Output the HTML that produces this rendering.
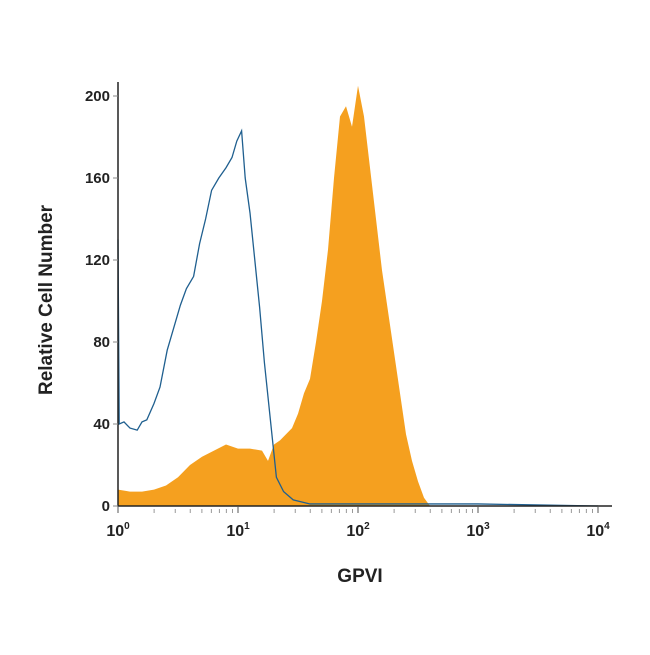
<!DOCTYPE html>
<html><head><meta charset="utf-8"><style>
body{margin:0;background:#fff;}
svg text{font-family:"Liberation Sans Narrow","Liberation Sans",sans-serif;fill:#222;}
</style></head><body>
<svg width="650" height="650">
<g id="plot"></g>
</svg>
<script>
const isoX=[0,0.01,0.05,0.1,0.16,0.2,0.24,0.3,0.35,0.41,0.46,0.52,0.57,0.63,0.68,0.73,0.78,0.84,0.9,0.95,0.99,1.03,1.06,1.1,1.14,1.18,1.22,1.27,1.32,1.38,1.46,1.6,2.0,3.0,4.0];
const isoY=[130,40,41,38,37,41,42,50,58,76,86,98,106,112,128,140,154,160,165,170,178,183,160,143,120,97,70,42,14,7,3,1,1,1,0];
const gpviX=[0,0.1,0.2,0.3,0.4,0.5,0.6,0.7,0.8,0.9,1.0,1.1,1.2,1.25,1.3,1.35,1.4,1.45,1.5,1.55,1.6,1.65,1.7,1.75,1.8,1.85,1.9,1.95,2.0,2.05,2.1,2.15,2.2,2.25,2.3,2.35,2.4,2.45,2.5,2.55,2.6];
const gpviY=[8,7,7,8,10,14,20,24,27,30,28,28,27,22,30,32,35,38,45,55,62,80,100,125,160,190,195,185,205,190,165,140,115,95,75,55,35,22,12,4,0];
const yTicks=[0,40,80,120,160,200];
const xTicks=["0","1","2","3","4"];
const X0=118,DEC=120,Y0=506,SY=2.05;
const sx=d=>X0+d*DEC, sy=v=>Y0-v*SY;
const NS="http://www.w3.org/2000/svg";
const g=document.getElementById('plot');
function mk(t,a){const e=document.createElementNS(NS,t);for(const k in a)e.setAttribute(k,a[k]);g.appendChild(e);return e;}
let d=`M${sx(gpviX[0])},${Y0}`;gpviX.forEach((x,i)=>d+=` L${sx(x)},${sy(gpviY[i])}`);d+=` L${sx(gpviX[gpviX.length-1])},${Y0}Z`;
const area=mk('path',{d,fill:'#f5a01f'});


let p=`M${sx(isoX[0])},${sy(isoY[0])}`;isoX.forEach((x,i)=>{if(i>0)p+=` L${sx(x)},${sy(isoY[i])}`;});
const line=mk('path',{d:p,fill:'none',stroke:'#1f5f8f','stroke-width':1.3});


const ya=mk('line',{x1:X0,y1:82,x2:X0,y2:Y0,stroke:'#222','stroke-width':1.5});


const xa=mk('line',{x1:X0,y1:Y0,x2:612,y2:Y0,stroke:'#222','stroke-width':1.5});


yTicks.forEach(v=>{
  mk('line',{x1:X0-5,y1:sy(v),x2:X0,y2:sy(v),stroke:'#888','stroke-width':1});
  const t=mk('text',{x:X0-8,y:sy(v)+5,'text-anchor':'end','font-size':15,'font-weight':'bold'});t.textContent=v;
  
  
});
xTicks.forEach((e,i)=>{
  mk('line',{x1:sx(i),y1:Y0,x2:sx(i),y2:Y0+7,stroke:'#555','stroke-width':1});
  if(i<4)for(let m=2;m<10;m++){const xx=sx(i+Math.log10(m));mk('line',{x1:xx,y1:Y0+3,x2:xx,y2:Y0+7,stroke:'#999','stroke-width':1});}
  const t=mk('text',{x:sx(i),y:Y0+30,'text-anchor':'middle','font-size':16,'font-weight':'bold'});
  t.innerHTML=`10<tspan dy="-7" font-size="10">${e}</tspan>`;
  
  
});
const xt=mk('text',{x:360,y:582,'text-anchor':'middle','font-size':19,'font-weight':'bold'});xt.textContent='GPVI';


const yt=mk('text',{x:52,y:300,'text-anchor':'middle','font-size':19,'font-weight':'bold',transform:'rotate(-90 52 300)'});yt.textContent='Relative Cell Number';


</script>
</body></html>
